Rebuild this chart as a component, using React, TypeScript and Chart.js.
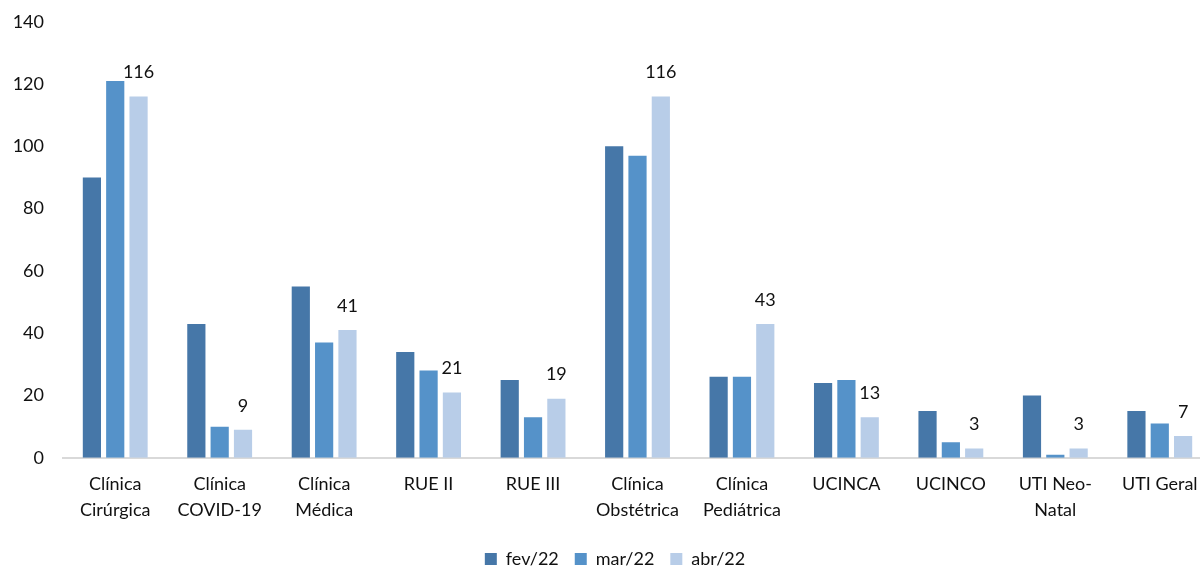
import React, { useEffect, useRef } from "react";
import { Chart, registerables } from "chart.js";

Chart.register(...registerables);

const categories: string[][] = [
  ["Clínica", "Cirúrgica"],
  ["Clínica", "COVID-19"],
  ["Clínica", "Médica"],
  ["RUE II"],
  ["RUE III"],
  ["Clínica", "Obstétrica"],
  ["Clínica", "Pediátrica"],
  ["UCINCA"],
  ["UCINCO"],
  ["UTI Neo-", "Natal"],
  ["UTI Geral"],
];

const seriesNames = ["fev/22", "mar/22", "abr/22"];
const fev = [90, 43, 55, 34, 25, 100, 26, 24, 15, 20, 15];
const mar = [121, 10, 37, 28, 13, 97, 26, 25, 5, 1, 11];
const abr = [116, 9, 41, 21, 19, 116, 43, 13, 3, 3, 7];
const colors = ["#4677A8", "#5592C9", "#B8CDE8"];

const FONT = "Lato, 'Open Sans', sans-serif";

export default function App() {
  const ref = useRef<HTMLCanvasElement | null>(null);

  useEffect(() => {
    if (!ref.current) return;
    const labelPlugin = {
      id: "abrLabels",
      afterDatasetsDraw(chart: any) {
        const ctx = chart.ctx;
        const meta = chart.getDatasetMeta(2);
        ctx.save();
        ctx.font = `18px ${FONT}`;
        ctx.fillStyle = "#111";
        ctx.textAlign = "center";
        ctx.textBaseline = "middle";
        meta.data.forEach((bar: any, i: number) => {
          ctx.fillText(String(abr[i]), bar.x, bar.y - 24);
        });
        ctx.restore();
      },
    };
    const legendShift = {
      id: "legendShift",
      afterLayout(chart: any) {
        if (chart.legend) {
          chart.legend.left += 9;
          chart.legend.right += 9;
        }
      },
    };
    const chart = new Chart(ref.current, {
      type: "bar",
      data: {
        labels: categories,
        datasets: [fev, mar, abr].map((d, i) => ({
          label: seriesNames[i],
          data: d,
          backgroundColor: colors[i],
          categoryPercentage: 0.67,
          barPercentage: 0.78,
        })),
      },
      options: {
        animation: false,
        responsive: false,
        devicePixelRatio: 1,
        layout: { padding: { top: 15, right: 0, left: 0, bottom: -8 } },
        plugins: {
          tooltip: { enabled: false },
          legend: {
            position: "bottom",
            labels: {
              boxWidth: 12,
              boxHeight: 12,
              padding: 16,
              color: "#111",
              font: { family: FONT, size: 18 },
            },
          },
        },
        scales: {
          x: {
            grid: { display: false },
            border: { color: "#D9D9D9", width: 2 },
            ticks: {
              color: "#111",
              font: { family: FONT, size: 18, lineHeight: 1.45 },
              padding: 5,
              maxRotation: 0,
              autoSkip: false,
            },
            afterFit(s: any) {
              s.height += 6;
            },
          },
          y: {
            min: 0,
            max: 140,
            grid: { display: false },
            border: { display: false },
            ticks: {
              stepSize: 20,
              color: "#111",
              font: { family: FONT, size: 18 },
              padding: 11,
            },
            afterFit(s: any) {
              s.width = 63;
            },
          },
        },
      },
      plugins: [labelPlugin, legendShift],
    });
    return () => chart.destroy();
  }, []);

  return (
    <div
      style={{
        position: "fixed",
        left: 0,
        top: 0,
        width: 1200,
        height: 570,
        overflow: "hidden",
        background: "#fff",
      }}
    >
      <canvas ref={ref} width={1212} height={570} style={{ display: "block" }} />
    </div>
  );
}
